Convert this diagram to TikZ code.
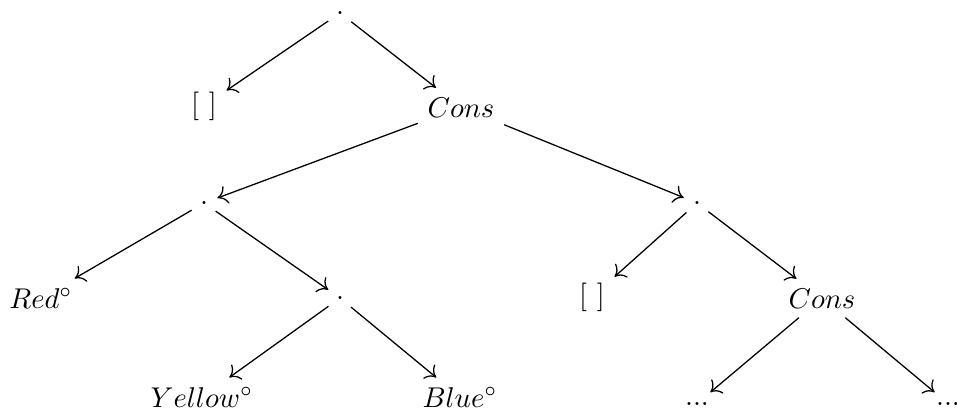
\documentclass[tikz,border=0pt]{standalone}
\usetikzlibrary{arrows.meta}
\begin{document}
\begin{tikzpicture}[x=0.35pt,y=-0.35pt,
  font=\fontsize{10.3}{12}\selectfont,
  conn/.style={line width=0.45pt,-{To[length=3.4pt,width=6.4pt]}},
  dotnode/.style={circle,inner sep=0pt,minimum size=9.6pt},
  txt/.style={inner sep=3.2pt,anchor=base}]
\useasboundingbox (0,0) rectangle (957,415);
\node[dotnode] (r) at (340,13) {$.$};
\node[txt] (n1) at (204,113) {$[\ ]$};
\node[txt] (c1) at (461,117) {$Cons$};
\node[dotnode] (d1) at (204,203) {$.$};
\node[dotnode] (d2) at (697,203) {$.$};
\node[txt] (red) at (41,308) {$Red^\circ$};
\node[dotnode] (d3) at (340,298) {$.$};
\node[txt] (n2) at (592,304) {$[\ ]$};
\node[txt] (c2) at (822,308) {$Cons$};
\node[txt] (yel) at (202,407) {$Yellow^\circ$};
\node[txt] (blu) at (460,407) {$Blue^\circ$};
\node[txt] (e1) at (697,405) {$...$};
\node[txt] (e2) at (948,405) {$...$};
\draw[conn] (r) -- (n1);
\draw[conn] (r) -- (c1);
\draw[conn] (c1) -- (d1);
\draw[conn] (c1) -- (d2);
\draw[conn] (d1) -- (red);
\draw[conn] (d1) -- (d3);
\draw[conn] (d2) -- (n2);
\draw[conn] (d2) -- (c2);
\draw[conn] (d3) -- (yel);
\draw[conn] (d3) -- (blu);
\draw[conn] (c2) -- (e1);
\draw[conn] (c2) -- (e2);
\end{tikzpicture}
\end{document}
